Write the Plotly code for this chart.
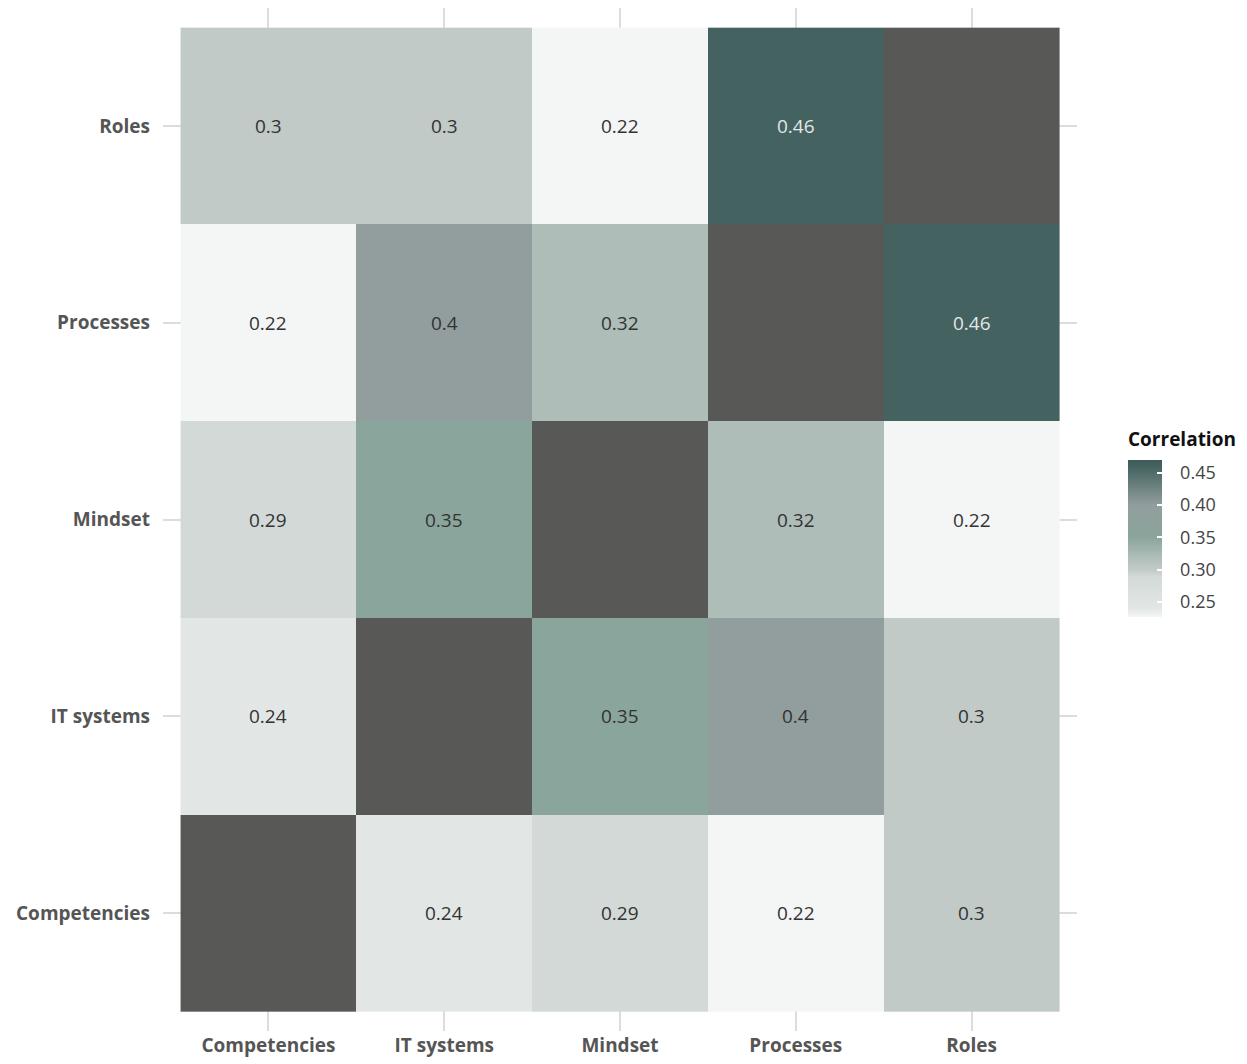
import plotly.graph_objects as go

categories = ["Competencies", "IT systems", "Mindset", "Processes", "Roles"]
# rows follow categories (bottom to top); None = diagonal (no value)
row_competencies = [None, 0.24, 0.29, 0.22, 0.30]
row_it_systems = [0.24, None, 0.35, 0.40, 0.30]
row_mindset = [0.29, 0.35, None, 0.32, 0.22]
row_processes = [0.22, 0.40, 0.32, None, 0.46]
row_roles = [0.30, 0.30, 0.22, 0.46, None]
colorbar_ticks = [0.25, 0.30, 0.35, 0.40, 0.45]

z = [row_competencies, row_it_systems, row_mindset, row_processes, row_roles]
zmin, zmax = 0.2267, 0.47

stops = [(0.22, "#F4F6F5"), (0.24, "#E2E7E6"), (0.29, "#D2D9D7"), (0.30, "#C1CAC7"),
         (0.32, "#AEBDB8"), (0.35, "#8AA59B"), (0.40, "#929E9D"), (0.46, "#436260"),
         (0.47, "#3C5B59")]
colorscale = [[max(0, min(1, (v - zmin) / (zmax - zmin))), c] for v, c in stops]
colorscale[0][0] = 0.0
colorscale[-1][0] = 1.0

diag = [[1 if v is None else None for v in row] for row in z]

FONT = "Open Sans"

fig = go.Figure()
fig.add_trace(go.Heatmap(
    x=categories, y=categories, z=diag, colorscale=[[0, "#585856"], [1, "#585856"]],
    showscale=False, hoverinfo="skip", xgap=0, ygap=0))
fig.add_trace(go.Heatmap(
    x=categories, y=categories, z=z, zmin=zmin, zmax=zmax, colorscale=colorscale,
    colorbar=dict(
        title=dict(text="<b>Correlation</b>", side="top",
                   font=dict(family=FONT, size=19, color="#111111")),
        x=1.0558, xanchor="left", xpad=0,
        y=0.5885, yanchor="top", ypad=0,
        thickness=34, len=188, lenmode="pixels",
        outlinewidth=0,
        tickvals=colorbar_ticks, ticktext=["   %.2f" % t for t in colorbar_ticks],
        ticks="inside", ticklen=5, tickcolor="white", tickwidth=1.5,
        tickfont=dict(family=FONT, size=18, color="#444444"),
    ),
))

annotations = []
for i, yc in enumerate(categories):
    for j, xc in enumerate(categories):
        v = z[i][j]
        if v is None:
            continue
        txt = ("%.2f" % v).rstrip("0").rstrip(".")
        annotations.append(dict(
            x=xc, y=yc, text=txt, showarrow=False,
            font=dict(family=FONT, size=19, weight=400,
                      color="#E3E6E5" if v >= 0.45 else "#333333")))

fig.update_layout(
    width=1239, height=1056,
    margin=dict(l=155, r=170, t=0, b=33, autoexpand=False),
    paper_bgcolor="white", plot_bgcolor="white",
    annotations=annotations,
    showlegend=False,
)
axis_common = dict(
    showgrid=True, gridcolor="#DCDCDC", gridwidth=1.5, zeroline=False,
    showline=False, ticks="", automargin=False,
    tickfont=dict(family=FONT, size=19, color="#555555", weight="bold"),
    range=[-0.6, 4.6],
)
fig.update_xaxes(**axis_common, ticklabelstandoff=1)
fig.update_yaxes(**axis_common, ticklabelstandoff=12)

fig.write_html("out.html")
